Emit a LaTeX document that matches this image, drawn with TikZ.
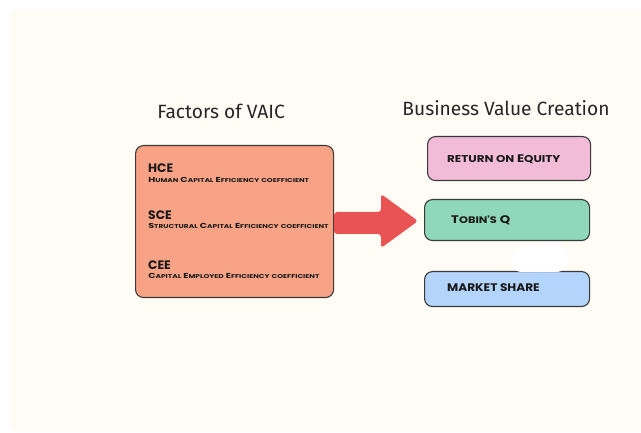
\documentclass[tikz,border=0pt]{standalone}
\usepackage{fontspec}
\setmainfont{Fira Sans}
\newfontfamily\capsfont{Poppins}[UprightFont=* Bold]
\definecolor{bgcream}{HTML}{FEFCF5}
\definecolor{salmon}{HTML}{F9A386}
\definecolor{arrowred}{HTML}{E95353}
\definecolor{roepink}{HTML}{F2BCD8}
\definecolor{tobingreen}{HTML}{8FD7BD}
\definecolor{shareblue}{HTML}{B3D4FB}
\definecolor{edgegray}{HTML}{3A3A3A}
\newcommand\smallcap[2]{{\fontsize{#1}{#1}\selectfont\MakeUppercase{#2}}}
\tikzset{
  valuebox/.style={draw=edgegray, line width=1.1pt, rounded corners=8pt, anchor=north west, inner sep=0pt},
  title/.style={font=\fontsize{19.2}{21}\selectfont, text=black!85, anchor=center, inner sep=0pt},
  factorname/.style={font=\capsfont\fontsize{12.3}{12.3}\selectfont, anchor=base west, inner sep=0pt, text=black!90},
  factordesc/.style={font=\capsfont\fontsize{7.2}{7.2}\selectfont, anchor=base west, inner sep=0pt, text=black!90, transform shape, xscale=1.33},
  kpi/.style={font=\capsfont\fontsize{11}{11}\selectfont, anchor=base west, inner sep=0pt, text=black!90, transform shape, xscale=1.2}
}
\begin{document}
\begin{tikzpicture}[x=1pt,y=-1pt]
\useasboundingbox (0,0) rectangle (641,433);
\fill[white] (0,0) rectangle (641,433);
\fill[bgcream] (11,9) rectangle (641,431);
% titles
\node[title] (t1) at (221,111) {Factors of VAIC};
\node[title] (t2) at (506,108) {Business Value Creation};
% left box
\node[valuebox, fill=salmon, minimum width=198pt, minimum height=152pt] (vaic) at (135,145) {};
\node[factorname] (hce) at (148,173) {HCE};
\node[factordesc] (hced) at (148,183) {H\smallcap{5.6}{uman} C\smallcap{5.6}{apital} E\smallcap{5.6}{fficiency} \smallcap{5.6}{coefficient}};
\node[factorname] (sce) at (148,220) {SCE};
\node[factordesc] (sced) at (148,229) {S\smallcap{5.6}{tructural} C\smallcap{5.6}{apital} E\smallcap{5.6}{fficiency} \smallcap{5.6}{coefficient}};
\node[factorname] (cee) at (148,270) {CEE};
\node[factordesc] (ceed) at (148,279) {C\smallcap{5.6}{apital} E\smallcap{5.6}{mployed} E\smallcap{5.6}{fficiency} \smallcap{5.6}{coefficient}};
% right boxes
\node[valuebox, fill=roepink, minimum width=163pt, minimum height=44pt] (roe) at (427,136) {};
\node[valuebox, fill=tobingreen, minimum width=165pt, minimum height=41pt] (tobin) at (424,199) {};
\node[valuebox, fill=shareblue, minimum width=165pt, minimum height=35pt] (share) at (424,271) {};
\node[kpi] (roet) at (447,163) {\smallcap{9.9}{return on} E\smallcap{9.9}{quity}};
\node[kpi] (tobint) at (451,224) {T\smallcap{9.5}{obin's} Q};
\node[kpi, xscale=0.92] (sharet) at (447,292) {MARKET SHARE};
% white blob
\fill[white, rounded corners=6pt] (520,245) -- (560,243) -- (570,258) -- (563,272) -- (515,272) -- (510,258) -- cycle;
% arrow
\fill[arrowred, rounded corners=3pt] (vaic.east |- 0,212) -- (381,212) -- (381,194) -- (418,221) -- (381,248) -- (381,234) -- (vaic.east |- 0,234) -- cycle;
\end{tikzpicture}
\end{document}
